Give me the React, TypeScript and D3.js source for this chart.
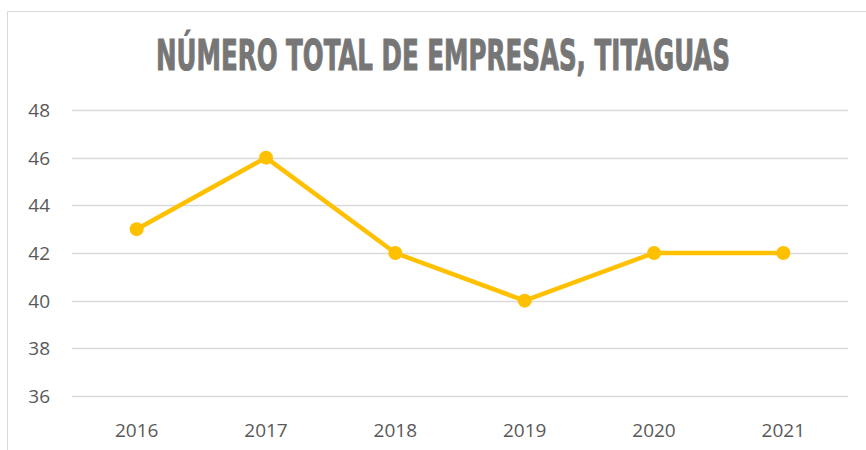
import { useEffect, useRef } from 'react'
import * as d3 from 'd3'

const years = ['2016', '2017', '2018', '2019', '2020', '2021']
const empresas = [43, 46, 42, 40, 42, 42]
const yTicks = [36, 38, 40, 42, 44, 46, 48]
const title = 'NÚMERO TOTAL DE EMPRESAS, TITAGUAS'

export default function App() {
  const svgRef = useRef<SVGSVGElement>(null)

  useEffect(() => {
    if (!svgRef.current) return
    const svg = d3.select(svgRef.current)
    svg.selectAll('*').remove()

    const W = 866, H = 450
    const m = { top: 110, right: 18, bottom: 54, left: 72 }

    // chart frame (only left + top visible)
    svg.append('path')
      .attr('d', `M7.5,${H} L7.5,11.5 L${W},11.5`)
      .attr('fill', 'none').attr('stroke', '#d9d9d9').attr('stroke-width', 1)

    svg.append('text')
      .attr('x', 443).attr('y', 70)
      .attr('text-anchor', 'middle')
      .attr('font-family', '"Liberation Sans Narrow", "DejaVu Sans Condensed", sans-serif')
      .attr('font-weight', 'bold').attr('font-size', 43)
      .attr('textLength', 574).attr('lengthAdjust', 'spacingAndGlyphs')
      .attr('fill', '#767676').attr('stroke', '#767676').attr('stroke-width', 1)
      .text(title)

    const x = d3.scaleBand().domain(years).range([m.left, W - m.right])
    const y = d3.scaleLinear().domain([36, 48]).range([H - m.bottom, m.top])

    const grid = svg.append('g')
    grid.selectAll('line').data(yTicks).join('line')
      .attr('x1', m.left).attr('x2', W - m.right)
      .attr('y1', d => Math.round(y(d)) + 0.5).attr('y2', d => Math.round(y(d)) + 0.5)
      .attr('stroke', '#d9d9d9').attr('stroke-width', 1.5)

    svg.append('g').selectAll('text').data(yTicks).join('text')
      .attr('x', 50).attr('y', d => y(d) + 7)
      .attr('text-anchor', 'end')
      .attr('font-family', '"Open Sans", sans-serif').attr('font-size', 19)
      .attr('fill', '#595959')
      .text(d => d)

    svg.append('g').selectAll('text').data(years).join('text')
      .attr('x', d => (x(d) ?? 0) + x.bandwidth() / 2).attr('y', 437)
      .attr('text-anchor', 'middle')
      .attr('font-family', '"Open Sans", sans-serif').attr('font-size', 19)
      .attr('fill', '#595959')
      .text(d => d)

    const pts = years.map((yr, i) => [(x(yr) ?? 0) + x.bandwidth() / 2, y(empresas[i])] as [number, number])

    svg.append('path')
      .attr('d', d3.line()(pts))
      .attr('fill', 'none').attr('stroke', '#ffc000')
      .attr('stroke-width', 4.5).attr('stroke-linejoin', 'round')

    svg.append('g').selectAll('circle').data(pts).join('circle')
      .attr('cx', d => d[0]).attr('cy', d => d[1]).attr('r', 7)
      .attr('fill', '#ffc000')
  }, [])

  return <svg ref={svgRef} width={866} height={450} style={{ position: 'absolute', left: 0, top: 0, background: '#fff' }} />
}
